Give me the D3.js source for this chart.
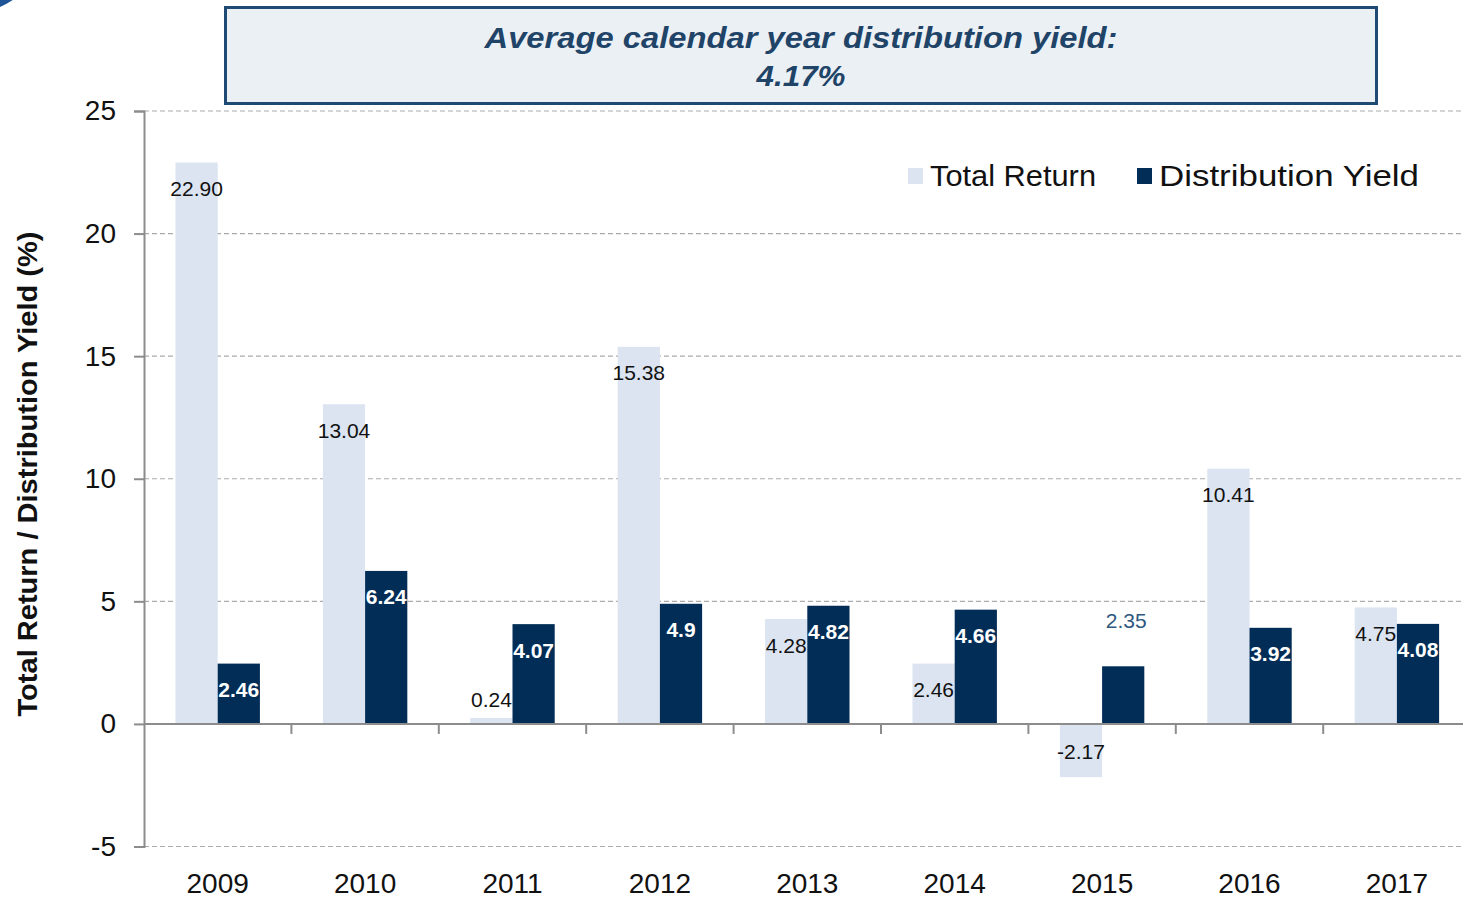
<!DOCTYPE html>
<html><head><meta charset="utf-8">
<script src="https://cdn.jsdelivr.net/npm/d3@7"></script>
<style>html,body{margin:0;padding:0;background:#fff;overflow:hidden}</style>
</head><body>
<svg id="c" width="1463" height="899"></svg>
<script>
const years = ["2009","2010","2011","2012","2013","2014","2015","2016","2017"];
const totalReturn = [22.90, 13.04, 0.24, 15.38, 4.28, 2.46, -2.17, 10.41, 4.75];
const distYield = [2.46, 6.24, 4.07, 4.9, 4.82, 4.66, 2.35, 3.92, 4.08];
const totalReturnLabels = ["22.90","13.04","0.24","15.38","4.28","2.46","-2.17","10.41","4.75"];
const distYieldLabels = ["2.46","6.24","4.07","4.9","4.82","4.66","2.35","3.92","4.08"];
const yTicks = [-5, 0, 5, 10, 15, 20, 25];
const yTickLabels = ["-5", "0", "5", "10", "15", "20", "25"];
const seriesNames = ["Total Return", "Distribution Yield"];
const titleLines = ["Average calendar year distribution yield:", "4.17%"];
const yAxisTitle = "Total Return / Distribution Yield (%)";

const svg = d3.select("#c");
const FONT = "'Liberation Sans', Arial, sans-serif";
const LIGHT = "#DBE4F0", DARK = "#022D57";

// decorative corner shape
svg.append("circle").attr("cx", -30).attr("cy", -64).attr("r", 77).attr("fill", "#1F5597");

const left = 144;
const y = d3.scaleLinear().domain([-5, 25]).range([846.5, 111]);
const x0 = d3.scaleBand().domain(years).range([left, left + 9 * 147.4]).padding(0);
const x1 = d3.scaleBand().domain(seriesNames).range([0, x0.bandwidth()]).paddingInner(0).paddingOuter(0.746);

// gridlines
svg.append("g").selectAll("line").data(yTicks.filter(t => t !== 0)).join("line")
  .attr("x1", left).attr("x2", 1463).attr("y1", d => y(d)).attr("y2", d => y(d))
  .attr("stroke", "#ABABAB").attr("stroke-width", 1.2).attr("stroke-dasharray", "5,3");

// bars
const rows = years.map((yr, i) => ({yr, i, vals: [totalReturn[i], distYield[i]]}));
const g = svg.append("g").selectAll("g").data(rows).join("g")
  .attr("transform", d => `translate(${x0(d.yr)},0)`);
g.selectAll("rect").data(d => d.vals.map((v, k) => ({v, k, i: d.i}))).join("rect")
  .attr("x", d => x1(seriesNames[d.k]))
  .attr("width", x1.bandwidth())
  .attr("y", d => y(Math.max(0, d.v)))
  .attr("height", d => Math.abs(y(d.v) - y(0)))
  .attr("fill", d => d.k === 0 ? LIGHT : DARK);

// axes
const yAxis = d3.axisLeft(y).tickValues(yTicks).tickSize(10).tickPadding(18)
  .tickFormat(d => yTickLabels[yTicks.indexOf(d)]);
const ya = svg.append("g").attr("transform", `translate(${left},0)`).call(yAxis);
ya.select(".domain").attr("stroke", "#8C8C8C").attr("stroke-width", 2);
ya.selectAll(".tick line").attr("stroke", "#8C8C8C").attr("stroke-width", 2);
ya.selectAll(".tick text").attr("font-family", FONT).attr("font-size", 28).attr("fill", "#111");

svg.append("line").attr("x1", left).attr("x2", 1463).attr("y1", y(0)).attr("y2", y(0))
  .attr("stroke", "#8C8C8C").attr("stroke-width", 2);
// category separator ticks
svg.append("g").selectAll("line").data(years.slice(1)).join("line")
  .attr("x1", d => x0(d)).attr("x2", d => x0(d)).attr("y1", y(0)).attr("y2", y(0) + 10)
  .attr("stroke", "#8C8C8C").attr("stroke-width", 2);
// x labels
svg.append("g").selectAll("text").data(years).join("text")
  .attr("x", d => x0(d) + x0.bandwidth() / 2).attr("y", 893)
  .attr("text-anchor", "middle").attr("font-family", FONT).attr("font-size", 28).attr("fill", "#111")
  .text(d => d);

// data labels
const lab = svg.append("g").attr("font-family", FONT).attr("font-size", 21).attr("text-anchor", "middle");
rows.forEach(r => {
  r.vals.forEach((v, k) => {
    let cx = x0(r.yr) + x1(seriesNames[k]) + x1.bandwidth() / 2;
    const h = Math.abs(y(v) - y(0));
    let cy, fill = k === 0 ? "#111" : "#fff", weight = k === 0 ? "normal" : "bold";
    if (k === 1 && r.yr === "2015") { cy = y(v) - 46; cx += 3; fill = "#2E5780"; weight = "normal"; }
    else if (h < 30) cy = y(v) - 19;
    else if (v < 0) cy = y(v) - 26;
    else cy = y(v) + 26;
    lab.append("text").attr("x", cx).attr("y", cy).attr("dy", "0.36em")
      .attr("fill", fill).attr("font-weight", weight)
      .text(k === 0 ? totalReturnLabels[r.i] : distYieldLabels[r.i]);
  });
});

// y axis title
svg.append("text").attr("transform", "translate(37,474) rotate(-90)")
  .attr("text-anchor", "middle").attr("font-family", FONT).attr("font-weight", "bold")
  .attr("font-size", 27).attr("fill", "#111")
  .attr("textLength", 485).attr("lengthAdjust", "spacingAndGlyphs")
  .text(yAxisTitle);

// legend
const legX = [908, 1137];
const legTextW = [166, 260];
const lg = svg.append("g").selectAll("g").data(seriesNames).join("g")
  .attr("transform", (d, i) => `translate(${legX[i]},168)`);
lg.append("rect").attr("width", 15).attr("height", 16).attr("fill", (d, i) => i === 0 ? LIGHT : DARK);
lg.append("text").attr("x", 22).attr("y", 18).attr("font-family", FONT).attr("font-size", 30).attr("fill", "#111")
  .attr("textLength", (d, i) => legTextW[i]).attr("lengthAdjust", "spacingAndGlyphs")
  .text(d => d);

// title box
svg.append("rect").attr("x", 225.5).attr("y", 7.5).attr("width", 1151).attr("height", 96)
  .attr("fill", "#EBF0F5").attr("stroke", "#1E4A74").attr("stroke-width", 3);
svg.append("text").attr("x", 801).attr("y", 48).attr("text-anchor", "middle")
  .attr("font-family", FONT).attr("font-weight", "bold").attr("font-style", "italic")
  .attr("font-size", 30).attr("fill", "#1F4468")
  .attr("textLength", 633).attr("lengthAdjust", "spacingAndGlyphs").text(titleLines[0]);
svg.append("text").attr("x", 801).attr("y", 86).attr("text-anchor", "middle")
  .attr("font-family", FONT).attr("font-weight", "bold").attr("font-style", "italic")
  .attr("font-size", 30).attr("fill", "#1F4468")
  .attr("textLength", 89).attr("lengthAdjust", "spacingAndGlyphs").text(titleLines[1]);
</script>
</body></html>
